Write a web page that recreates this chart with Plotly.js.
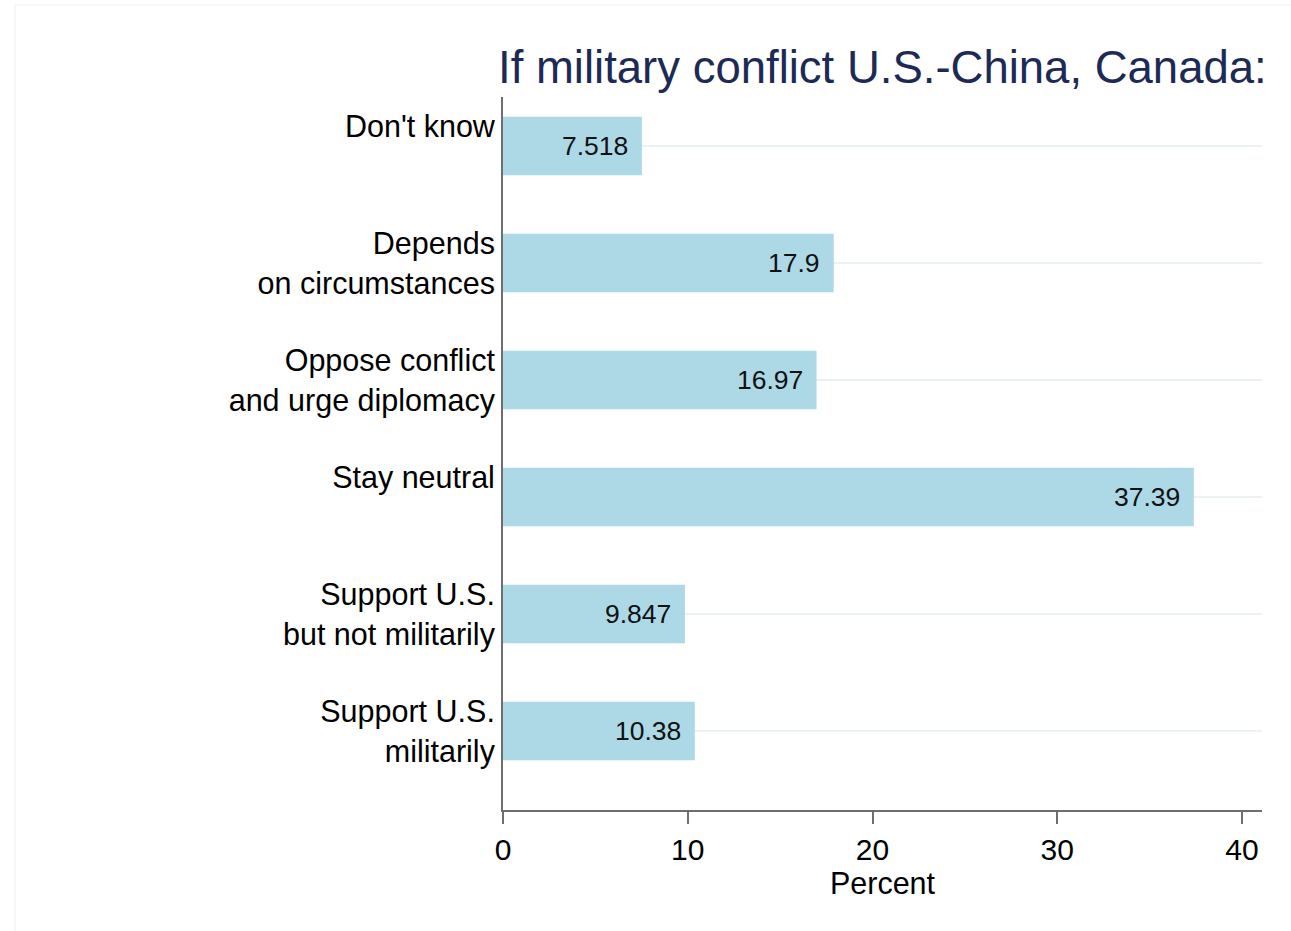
<!DOCTYPE html>
<html>
<head>
<meta charset="utf-8">
<script src="https://cdn.plot.ly/plotly-3.0.1.min.js"></script>
<style>
  html, body { margin: 0; padding: 0; background: #ffffff; }
  #chart { width: 1291px; height: 931px; }
</style>
</head>
<body>
<div id="chart"></div>
<script>
// ---- data ----
const categories = [
  "Don't know",
  "Depends on circumstances",
  "Oppose conflict and urge diplomacy",
  "Stay neutral",
  "Support U.S. but not militarily",
  "Support U.S. militarily"
];
const tickLabels = [
  "Don't know<br>\u00a0",
  "Depends<br>on circumstances",
  "Oppose conflict<br>and urge diplomacy",
  "Stay neutral<br>\u00a0",
  "Support U.S.<br>but not militarily",
  "Support U.S.<br>militarily"
];
const percents = [7.518, 17.9, 16.97, 37.39, 9.847, 10.38];
const valueLabels = ["7.518", "17.9", "16.97", "37.39", "9.847", "10.38"];
const xTickVals = [0, 10, 20, 30, 40];
const xTickText = ["0", "10", "20", "30", "40"];
const titleText = "If military conflict U.S.-China, Canada:";
const xTitleText = "Percent";

// ---- chart ----
const FONT = "Liberation Sans, Arial, Helvetica, sans-serif";

const trace = {
  type: "bar",
  orientation: "h",
  x: percents,
  y: categories,
  width: 0.5,
  marker: { color: "#add8e6", line: { width: 0 } },
  hoverinfo: "x+y"
};

const annotations = categories.map((c, i) => ({
  x: percents[i],
  y: c,
  xref: "x",
  yref: "y",
  text: valueLabels[i],
  showarrow: false,
  xanchor: "right",
  yanchor: "middle",
  xshift: -12,
  font: { family: FONT, size: 26.5, color: "#111111" }
}));

const layout = {
  width: 1291,
  height: 931,
  paper_bgcolor: "#ffffff",
  plot_bgcolor: "#ffffff",
  margin: { l: 503, r: 29, t: 97, b: 121, pad: 0 },
  showlegend: false,
  font: { family: FONT, color: "#000000" },
  title: {
    text: titleText,
    font: { family: FONT, size: 45.5, color: "#1c2a55" },
    xref: "container",
    yref: "container",
    x: 498 / 1291,
    xanchor: "left",
    y: 1 - 67 / 931,
    yanchor: "middle"
  },
  xaxis: {
    range: [0, 41.08],
    tickvals: xTickVals,
    ticktext: xTickText,
    ticks: "outside",
    ticklen: 12,
    tickwidth: 2,
    tickcolor: "#6e6e6e",
    showline: true,
    linecolor: "#6e6e6e",
    linewidth: 2,
    showgrid: false,
    zeroline: false,
    tickfont: { family: FONT, size: 30, color: "#000000" },
    title: {
      text: xTitleText,
      font: { family: FONT, size: 30.5, color: "#000000" },
      standoff: 2
    },
    fixedrange: true
  },
  yaxis: {
    type: "category",
    categoryorder: "array",
    categoryarray: categories,
    range: [5.675, -0.419],
    tickvals: categories,
    ticktext: tickLabels,
    ticks: "",
    showline: true,
    linecolor: "#6e6e6e",
    linewidth: 2,
    showgrid: true,
    gridcolor: "#eaf2f4",
    gridwidth: 2,
    zeroline: false,
    ticklabelstandoff: 0,
    tickfont: { family: FONT, size: 30.5, color: "#000000" },
    fixedrange: true
  },
  annotations: annotations,
  shapes: [
    {
      type: "rect",
      xref: "paper",
      yref: "paper",
      x0: (15 - 503) / 759,
      x1: (1300 - 503) / 759,
      y0: (810 - 940) / 713,
      y1: (810 - 5) / 713,
      line: { color: "#f0f0f0", width: 1 },
      fillcolor: "rgba(0,0,0,0)",
      layer: "below"
    }
  ]
};

Plotly.newPlot("chart", [trace], layout, { displayModeBar: false, staticPlot: true });
</script>
</body>
</html>
